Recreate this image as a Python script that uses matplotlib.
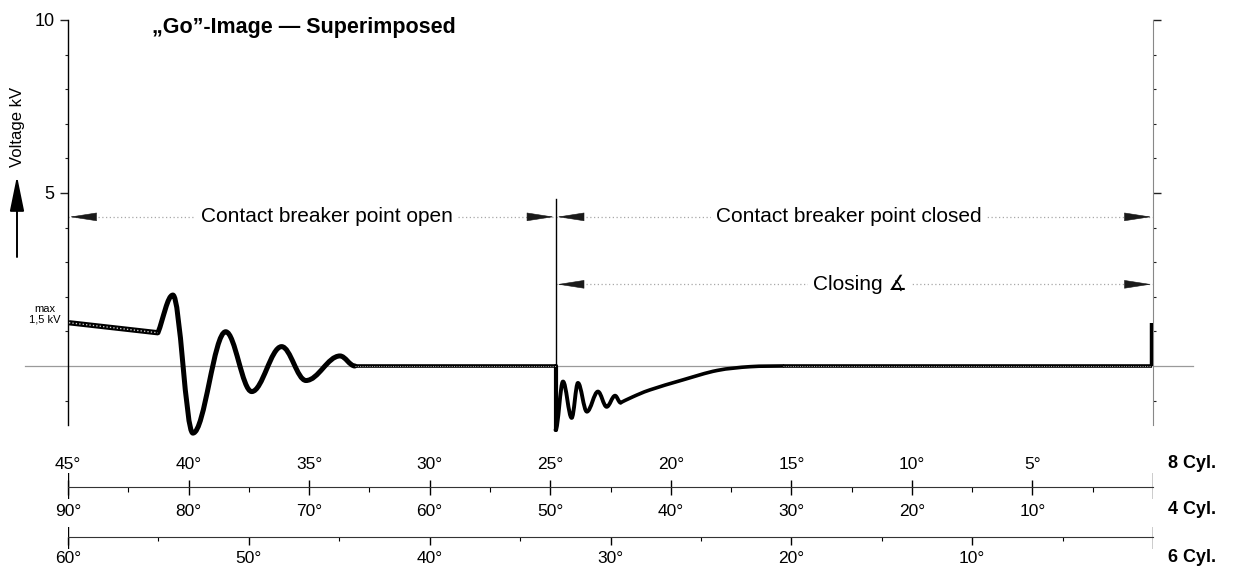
import matplotlib
matplotlib.use('Agg')
import matplotlib.pyplot as plt
from matplotlib.path import Path
from matplotlib.patches import PathPatch

# --- data (x in 8-cylinder degrees, y in kV) ---
ripple_deg = [44.96, 41.27]
ripple_kv = [1.25, 0.96]

ring_deg = [41.27, 40.65, 39.82, 38.46, 37.38, 36.14, 35.13, 33.72, 33.10]
ring_kv = [0.96, 2.05, -1.94, 0.99, -0.74, 0.56, -0.42, 0.29, 0.0]

flat_open_deg = [33.10, 24.78]
flat_open_kv = [0.0, 0.0]

close_deg = [24.78, 24.47, 24.11, 23.85, 23.48, 23.02, 22.66, 22.31, 22.08]
close_kv = [-1.85, -0.45, -1.50, -0.49, -1.32, -0.74, -1.18, -0.86, -1.06]

decay_deg = [22.08, 21.57, 20.86, 19.49, 18.08, 16.71, 15.35]
decay_kv = [-1.06, -0.89, -0.69, -0.40, -0.13, -0.02, 0.0]

flat_closed_deg = [15.35, 0.05]
flat_closed_kv = [0.0, 0.0]

spike_deg = [0.05, 0.05]
spike_kv = [0.0, 1.25]

break_deg = 24.78
break_top_kv = 4.83
span_row_kv = 4.31
closing_row_kv = 2.36

cyl8_ticks = [45, 40, 35, 30, 25, 20, 15, 10, 5]
cyl8_minor = [42.5, 37.5, 32.5, 27.5, 22.5, 17.5, 12.5, 7.5, 2.5]
cyl4_ticks = [90, 80, 70, 60, 50, 40, 30, 20, 10]
cyl6_ticks = [60, 50, 40, 30, 20, 10]
cyl6_minor = [55, 45, 35, 25, 15, 5]

W_PX, H_PX = 1235, 569
plt.rcParams['font.family'] = ['Liberation Sans', 'DejaVu Sans']

fig = plt.figure(figsize=(W_PX / 100, H_PX / 100), dpi=100)
L = 68 / W_PX
Wd = 1085 / W_PX


def fy(px):
    return 1 - px / H_PX


ax = fig.add_axes([L, fy(424.8), Wd, (424.8 - 20) / H_PX])
ax.set_xlim(45, 0)
ax.set_ylim(-1.7, 10)
ax.patch.set_visible(False)
for s in ['top', 'bottom']:
    ax.spines[s].set_visible(False)
ax.spines['left'].set_linewidth(1)
ax.spines['right'].set_color('#888888')
ax.spines['right'].set_linewidth(0.8)
ax.set_xticks([])
ax.set_yticks([5, 10])
ax.set_yticklabels(['5', '10'])
ax.set_yticks([-1, 1, 2, 3, 4, 6, 7, 8, 9], minor=True)
ax.tick_params(axis='y', which='both', right=True, direction='out', color='#222222')
ax.tick_params(axis='y', which='major', length=6, width=1, pad=3.5, labelsize=13)
ax.tick_params(axis='y', which='minor', length=2.5, width=0.8)

# zero baseline
ax.axhline(0, xmin=-0.04, xmax=1.037, color='#9a9a9a', lw=0.9, clip_on=False, zorder=1)


def smooth_path(xs, ys, corner_start=False, k=0.36):
    # cubic segments with flat tangents at the turning points
    verts = [(xs[0], ys[0])]
    codes = [Path.MOVETO]
    for i in range(len(xs) - 1):
        x0, y0, x1, y1 = xs[i], ys[i], xs[i + 1], ys[i + 1]
        dx, dy = x1 - x0, y1 - y0
        c1 = (x0 + k * dx, y0 + k * dy) if (i == 0 and corner_start) else (x0 + k * dx, y0)
        c2 = (x1 - k * dx, y1)
        verts += [c1, c2, (x1, y1)]
        codes += [Path.CURVE4] * 3
    return Path(verts, codes)


def spline_path(xs, ys):
    # Catmull-Rom style cubic through the points
    pts = list(zip(xs, ys))
    verts = [pts[0]]
    codes = [Path.MOVETO]
    for i in range(len(pts) - 1):
        p0 = pts[max(i - 1, 0)]
        p1, p2 = pts[i], pts[i + 1]
        p3 = pts[min(i + 2, len(pts) - 1)]
        c1 = (p1[0] + (p2[0] - p0[0]) / 6, p1[1] + (p2[1] - p0[1]) / 6)
        c2 = (p2[0] - (p3[0] - p1[0]) / 6, p2[1] - (p3[1] - p1[1]) / 6)
        verts += [c1, c2, p2]
        codes += [Path.CURVE4] * 3
    return Path(verts, codes)


def chain(xs, ys, lw):
    ax.plot(xs, ys, color='black', lw=lw, solid_capstyle='butt', zorder=3, clip_on=False)
    ax.plot(xs, ys, color='#d0d0d0', lw=lw * 0.25, ls=(0, (1.0, 1.6)), zorder=4, clip_on=False)


def curve(path, lw):
    ax.add_patch(PathPatch(path, fill=False, lw=lw, edgecolor='black', capstyle='round',
                           joinstyle='round', zorder=3, clip_on=False))


chain(ripple_deg, ripple_kv, 3.8)
curve(smooth_path(ring_deg, ring_kv, corner_start=True), 3.6)
chain(flat_open_deg, flat_open_kv, 2.6)

# closing transient
ax.plot([break_deg, break_deg], [0, break_top_kv], color='black', lw=1.0, zorder=3)
ax.plot([break_deg, close_deg[0]], [0, close_kv[0]], color='black', lw=3.0,
        solid_capstyle='round', zorder=3, clip_on=False)
curve(smooth_path(close_deg, close_kv), 2.8)
curve(spline_path(decay_deg, decay_kv), 2.6)
chain(flat_closed_deg, flat_closed_kv, 2.6)
ax.plot(spike_deg, spike_kv, color='black', lw=3.2, solid_capstyle='butt', zorder=3)


# span arrows
def head(x_tip, y, side):
    ax.annotate('', xy=(x_tip, y), xytext=(18 * side, 0), textcoords='offset points',
                arrowprops=dict(arrowstyle='-|>,head_length=1.8,head_width=0.28',
                                mutation_scale=10, color='#1a1a1a', lw=0.4,
                                shrinkA=0, shrinkB=1.2),
                annotation_clip=False, zorder=5)


for x0, x1, y in [(45, break_deg, span_row_kv), (break_deg, 0, span_row_kv),
                  (break_deg, 0, closing_row_kv)]:
    ax.plot([x0, x1], [y, y], color='#a8a8a8', lw=0.9, ls=(0, (1, 2)), zorder=2)
    head(x0, y, 1)
    head(x1, y, -1)

txt_kw = dict(fontsize=15, ha='center', va='center', zorder=6,
              bbox=dict(boxstyle='square,pad=0.25', fc='white', ec='none'))
ax.text(34.26, span_row_kv, 'Contact breaker point open', **txt_kw)
ax.text(12.61, span_row_kv, 'Contact breaker point closed', **txt_kw)
ax.text(12.15, closing_row_kv, 'Closing ∡', **txt_kw)

# title and labels
fig.text(152 / W_PX, fy(33), '„Go”-Image — Superimposed', fontsize=15.5,
         fontweight='bold', ha='left', va='baseline')
fig.text(18 / W_PX, fy(127), 'Voltage kV', rotation=90, fontsize=12, ha='center', va='center')
ax.annotate('', xy=(17, H_PX - 176), xycoords='figure pixels',
            xytext=(17, H_PX - 257), textcoords='figure pixels',
            arrowprops=dict(arrowstyle='-|>,head_length=1.08,head_width=0.22',
                            mutation_scale=20, color='black', lw=1.4, shrinkA=0, shrinkB=0),
            annotation_clip=False)
fig.text(45 / W_PX, fy(314), 'max\n1,5 kV', fontsize=8, ha='center', va='center',
         multialignment='center', linespacing=1.05)

# 8 cylinder scale
ax8 = fig.add_axes([L, fy(499), Wd, 26 / H_PX])
ax8.set_xlim(45, 0)
ax8.set_ylim(0, 1)
ax8.patch.set_visible(False)
for s in ['left', 'right', 'bottom']:
    ax8.spines[s].set_visible(False)
ax8.spines['top'].set_position(('axes', 0.473))
ax8.spines['top'].set_color('#333333')
ax8.xaxis.tick_top()
ax8.set_yticks([])
ax8.set_xticks(cyl8_ticks)
ax8.set_xticklabels([f'{v}°' for v in cyl8_ticks])
ax8.set_xticks(cyl8_minor, minor=True)
ax8.tick_params(axis='x', which='major', direction='inout', length=10.8, width=1,
                pad=5.5, labelsize=12.5)
ax8.tick_params(axis='x', which='minor', direction='in', length=3.6, width=0.8)
for v in (45, 0):
    ax8.axvline(v, color='black', lw=1)

# 4 / 6 cylinder scale
rect46 = [L, fy(549), Wd, 22 / H_PX]
ax4 = fig.add_axes(rect46)
ax4.set_xlim(90, 0)
ax4.set_ylim(0, 1)
ax4.patch.set_visible(False)
for s in ['left', 'right', 'bottom', 'top']:
    ax4.spines[s].set_visible(False)
ax4.spines['top'].set_position(('axes', 0.559))
ax4.xaxis.tick_top()
ax4.set_yticks([])
ax4.set_xticks(cyl4_ticks)
ax4.set_xticklabels([f'{v}°' for v in cyl4_ticks])
ax4.tick_params(axis='x', length=0, pad=12.5, labelsize=12.5)

ax6 = fig.add_axes(rect46)
ax6.set_xlim(60, 0)
ax6.set_ylim(0, 1)
ax6.patch.set_visible(False)
for s in ['left', 'right', 'top']:
    ax6.spines[s].set_visible(False)
ax6.spines['bottom'].set_position(('axes', 0.559))
ax6.spines['bottom'].set_color('#333333')
ax6.set_yticks([])
ax6.set_xticks(cyl6_ticks)
ax6.set_xticklabels([f'{v}°' for v in cyl6_ticks])
ax6.set_xticks(cyl6_minor, minor=True)
ax6.tick_params(axis='x', which='major', direction='out', length=5.5, width=1,
                pad=5, labelsize=12.5)
ax6.tick_params(axis='x', which='minor', direction='out', length=3, width=0.8)
for v in (60, 0):
    ax6.axvline(v, color='black', lw=1)

for label, ypx in [('8 Cyl.', 463), ('4 Cyl.', 510), ('6 Cyl.', 558)]:
    fig.text(1168 / W_PX, fy(ypx), label, fontsize=13, fontweight='bold',
             ha='left', va='center')

fig.savefig('out.png', dpi=100)
